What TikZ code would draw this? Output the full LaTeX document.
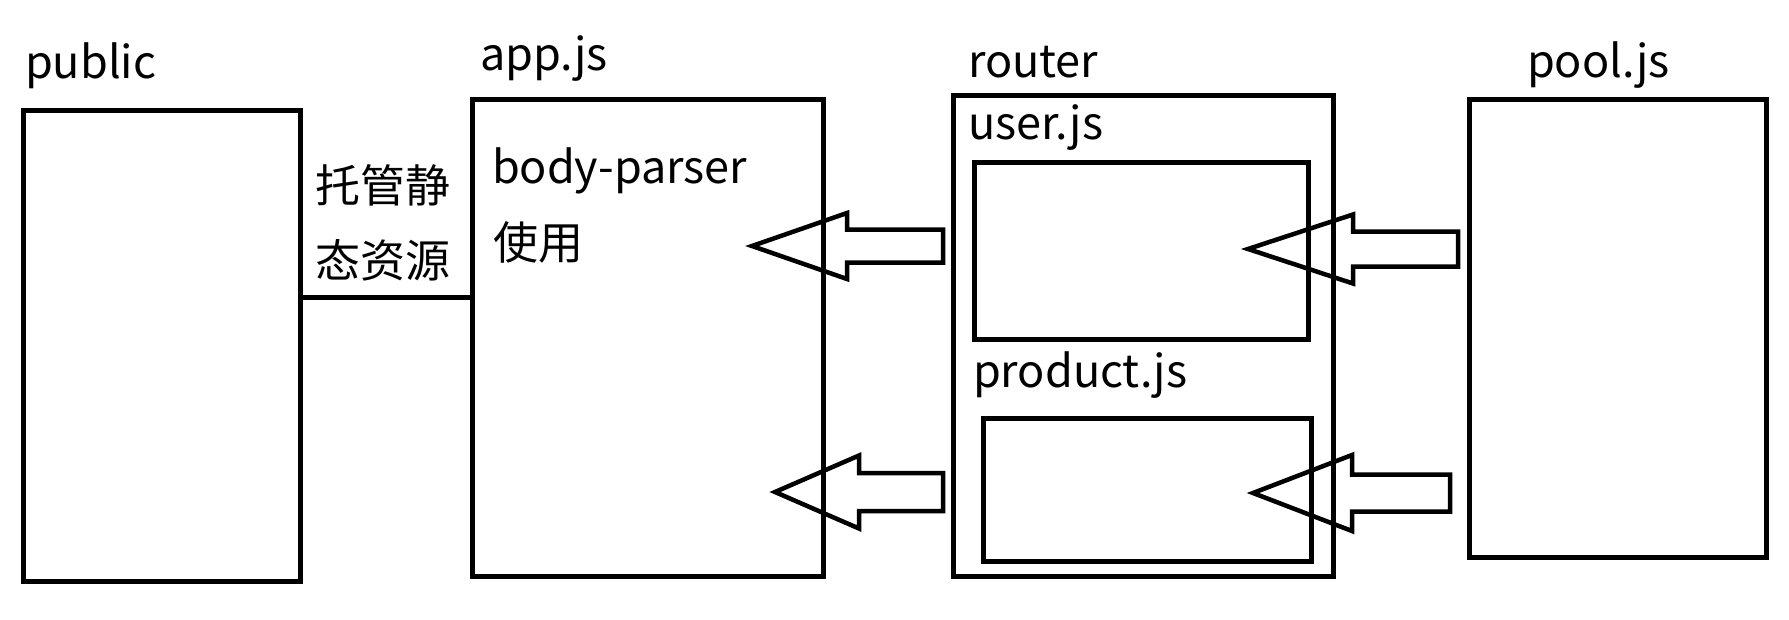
\documentclass[tikz,border=0pt]{standalone}
\usepackage{fontspec}
\setmainfont{Noto Sans CJK SC}
\tikzset{
  box/.style={draw=black, line width=5pt, line join=miter},
  lbl/.style={inner sep=0pt, outer sep=0pt, anchor=base west, font=\fontsize{45}{49}\selectfont},
  blockarrow/.style={draw=black, line width=4.5pt, line join=miter},
  link/.style={draw=black, line width=5pt}
}
\newcommand{\blockarr}[7]{% tip x, tip y, head x, end x, head half, shaft half, name
  \draw[blockarrow] (#1,#2) coordinate (#7tip) -- (#3,#2-#5) -- (#3,#2-#6) -- (#4,#2-#6) coordinate (#7end)
     -- (#4,#2+#6) -- (#3,#2+#6) -- (#3,#2+#5) -- cycle;}
\begin{document}
\begin{tikzpicture}[x=1pt,y=-1pt]
\useasboundingbox (0,0) rectangle (1789,619);
% boxes
\draw[box] (23,110) rectangle (300,581);
\node[inner sep=0pt] (public) at (161.5,345.5) [minimum width=277pt, minimum height=471pt] {};
\draw[box] (472,99.5) rectangle (823,576);
\node[inner sep=0pt] (app) at (647.5,337.75) [minimum width=351pt, minimum height=476.5pt] {};
\draw[box] (953,95.5) rectangle (1333,576);
\node[inner sep=0pt] (router) at (1143,335.75) [minimum width=380pt, minimum height=480.5pt] {};
\draw[box] (974,162) rectangle (1308,339);
\node[inner sep=0pt] (user) at (1141,250.5) [minimum width=334pt, minimum height=177pt] {};
\draw[box] (983,418) rectangle (1311,561);
\node[inner sep=0pt] (product) at (1147,489.5) [minimum width=328pt, minimum height=143pt] {};
\draw[box] (1469,99.5) rectangle (1766,557);
\node[inner sep=0pt] (pool) at (1617.5,328.25) [minimum width=297pt, minimum height=457.5pt] {};
% connector
\draw[link] (public.east |- 0,297.5) -- (app.west |- 0,297.5);
% labels
\node[lbl] (tpublic) at (25,78) {public};
\node[lbl] (tapp) at (480,70) {app.js};
\node[lbl] (trouter) at (968,77) {router};
\node[lbl] (tpool) at (1527,77) {pool.js};
\node[lbl] (tuser) at (968,139) {user.js};
\node[lbl] (tproduct) at (973,387) {product.js};
\node[lbl] (tbody) at (492,183) {body-parser};
\node[lbl] (tuse) at (493,259) {使用};
\node[lbl] (tstatic1) at (315,202) {托管静};
\node[lbl] (tstatic2) at (315,277) {态资源};
% block arrows
\blockarr{752}{246}{847}{943}{33}{16.5}{a1}
\blockarr{775}{492}{859}{943}{36.5}{19}{a2}
\blockarr{1248}{249}{1353}{1458}{34.5}{17.5}{a3}
\blockarr{1253}{493}{1352}{1450}{38}{18.5}{a4}
\end{tikzpicture}
\end{document}
